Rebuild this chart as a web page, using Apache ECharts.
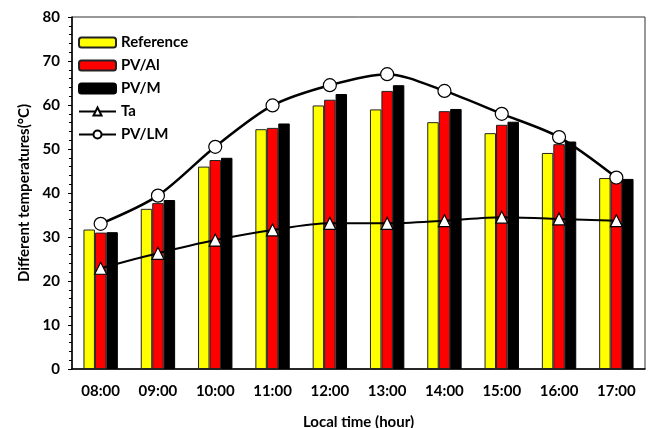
<!DOCTYPE html>
<html><head><meta charset="utf-8">
<script src="https://cdn.jsdelivr.net/npm/echarts@6/dist/echarts.min.js"></script>
<style>html,body{margin:0;padding:0;background:#fff}#c{width:649px;height:428px}</style>
</head><body><div id="c"></div>
<script>
const categories = ['08:00','09:00','10:00','11:00','12:00','13:00','14:00','15:00','16:00','17:00'];
const reference = [31.7, 36.4, 46.0, 54.5, 59.9, 59.0, 56.1, 53.6, 49.1, 43.4];
const pvAl      = [31.0, 37.7, 47.5, 54.8, 61.2, 63.2, 58.6, 55.5, 51.1, 43.0];
const pvM       = [31.1, 38.4, 48.0, 55.8, 62.5, 64.5, 59.1, 56.2, 51.7, 43.2];
const ta        = [22.9, 26.3, 29.3, 31.6, 33.1, 33.1, 33.7, 34.5, 34.1, 33.7];
const pvLM      = [33.0, 39.4, 50.5, 59.9, 64.5, 67.0, 63.2, 58.0, 52.7, 43.5];

const FONT = 'Lato, "Open Sans", sans-serif';
const chart = echarts.init(document.getElementById('c'), null, {renderer:'canvas'});
const barStyle = (c) => ({color: c, borderColor: '#222', borderWidth: 1});
chart.setOption({
  animation: false,
  backgroundColor: '#fff',
  textStyle: {fontFamily: FONT},
  grid: {left: 72, right: 4, top: 17, bottom: 59, show: true, borderColor: '#333', borderWidth: 1,
         backgroundColor: 'transparent', containLabel: false, outerBoundsMode: 'none'},
  legend: {
    orient: 'vertical', left: 73, top: 30, itemWidth: 37, itemHeight: 10, itemGap: 8,
    textStyle: {fontFamily: FONT, fontWeight: 'bold', fontSize: 15, color: '#000'},
    data: [
      {name: 'Reference'}, {name: 'PV/Al'}, {name: 'PV/M'},
      {name: 'Ta'}, {name: 'PV/LM'}
    ]
  },
  xAxis: {
    type: 'category', data: categories,
    name: 'Local time (hour)', nameLocation: 'middle', nameGap: 46,
    nameTextStyle: {fontFamily: FONT, fontWeight: 'bold', fontSize: 15, color: '#000'},
    axisLine: {lineStyle: {color: '#000', width: 1.5}},
    axisTick: {alignWithLabel: true, length: 3, lineStyle: {color: '#000'}},
    axisLabel: {fontFamily: FONT, fontWeight: 'bold', fontSize: 15, color: '#000', margin: 15}
  },
  yAxis: {
    type: 'value', min: 0, max: 80, interval: 10,
    name: 'Different temperatures(°C)', nameLocation: 'middle', nameGap: 40, nameRotate: 90,
    nameTextStyle: {fontFamily: FONT, fontWeight: 'bold', fontSize: 15, color: '#000'},
    axisLine: {show: true, lineStyle: {color: '#000', width: 1.5}},
    axisTick: {show: true, inside: false, length: 4, lineStyle: {color: '#000'}},
    minorTick: {show: true, splitNumber: 5, length: 3, lineStyle: {color: '#000'}},
    splitLine: {show: false},
    axisLabel: {fontFamily: FONT, fontWeight: 'bold', fontSize: 15, color: '#000', margin: 12}
  },
  series: [
    {name: 'Reference', type: 'bar', data: reference, barGap: '0%', barCategoryGap: '40%', itemStyle: barStyle('#ffff00')},
    {name: 'PV/Al', type: 'bar', data: pvAl, barGap: '0%', barCategoryGap: '40%', itemStyle: barStyle('#ff0000')},
    {name: 'PV/M', type: 'bar', data: pvM, barGap: '0%', barCategoryGap: '40%', itemStyle: {color: '#000', borderColor: '#000', borderWidth: 1}},
    {name: 'Ta', type: 'line', data: ta, smooth: 0.3, symbol: 'triangle', symbolSize: 12,
     lineStyle: {color: '#000', width: 2}, itemStyle: {color: '#fff', borderColor: '#000', borderWidth: 1.2}, z: 5},
    {name: 'PV/LM', type: 'line', data: pvLM, smooth: 0.3, symbol: 'circle', symbolSize: 13,
     lineStyle: {color: '#000', width: 2.5}, itemStyle: {color: '#fff', borderColor: '#000', borderWidth: 1.2}, z: 6}
  ]
});
</script></body></html>
